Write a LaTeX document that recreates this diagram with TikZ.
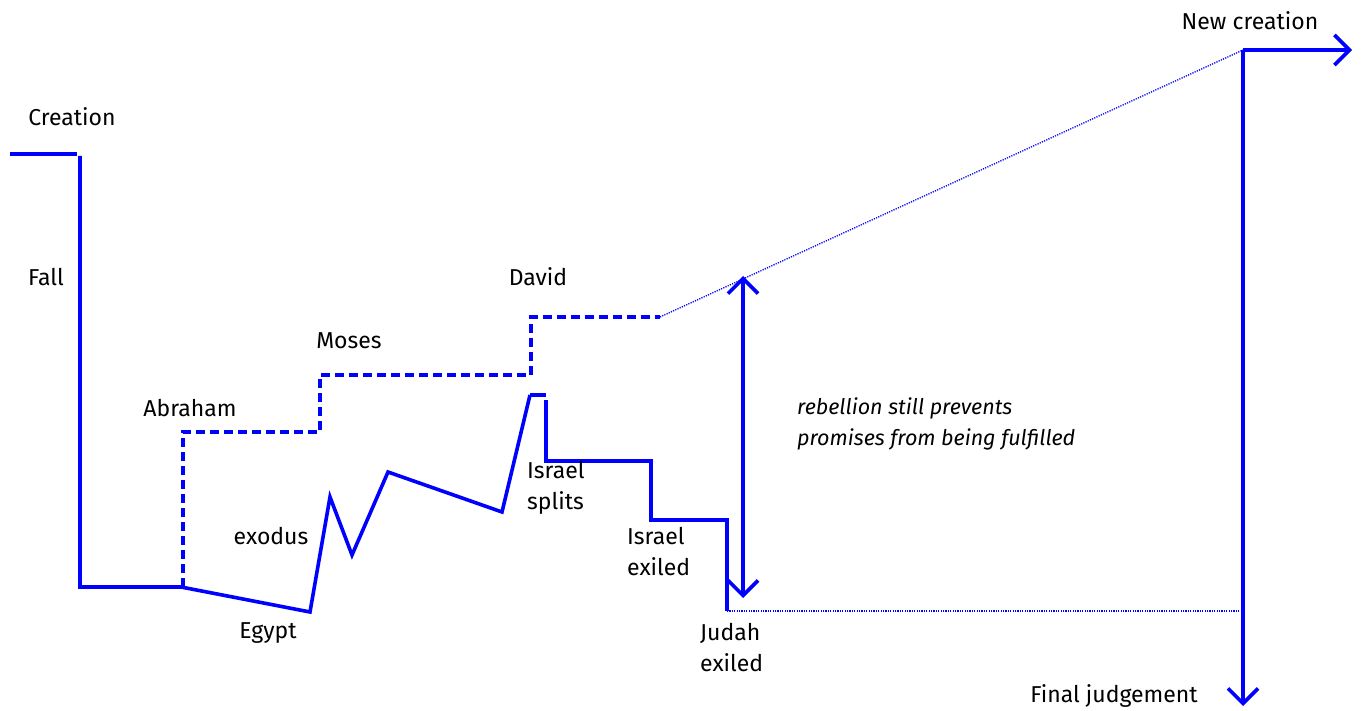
\documentclass[tikz,border=0pt]{standalone}
\usepackage{fontspec}
\setmainfont{Fira Sans}
\usetikzlibrary{arrows.meta}
\begin{document}
\begin{tikzpicture}[x=1pt,y=-1pt,
  solidline/.style={blue,line width=3.6pt},
  dashline/.style={blue,line width=3.6pt,dash pattern=on 9pt off 5pt},
  dotline/.style={blue,line width=1.3pt,dash pattern=on 1.2pt off 1.2pt},
  tipb/.tip={Straight Barb[length=15pt,width=30pt,line width=3.6pt]},
  arr/.style={blue,line width=3.6pt,-tipb},
  dblarr/.style={blue,line width=3.6pt,tipb-tipb},
  lbl/.style={font=\fontsize{23}{31}\selectfont,inner sep=0pt},
  lbll/.style={lbl,align=left}]
\useasboundingbox (0,0) rectangle (1363,711);
% coordinates
\coordinate (c1) at (10,154);
\coordinate (c2) at (77,154);
\coordinate (f1) at (80,156);
\coordinate (f2) at (80,587);
\coordinate (a0) at (181,587);
\coordinate (eg) at (310,612);
\coordinate (z1) at (330,497);
\coordinate (z2) at (352,555);
\coordinate (z3) at (388,472);
\coordinate (z4) at (502,512);
\coordinate (z5) at (530,395);
\coordinate (z6) at (546,395);
\coordinate (s1) at (546,400);
\coordinate (s2) at (546,461);
\coordinate (s3) at (651,461);
\coordinate (s4) at (651,520);
\coordinate (s5) at (727,520);
\coordinate (s6) at (727,611);
\coordinate (d0) at (183,587);
\coordinate (d1) at (183,432);
\coordinate (d2) at (320,432);
\coordinate (d3) at (320,375);
\coordinate (d4) at (527,375);
\coordinate (d5) at (531,375);
\coordinate (d6) at (531,317);
\coordinate (d7) at (660,317);
\coordinate (nc) at (1243,50);
\coordinate (ncr) at (1352,50);
\coordinate (fj) at (1243,706);
\coordinate (fjm) at (1243,611);
\coordinate (ra) at (743,276);
\coordinate (rb) at (743,598);
% solid lines
\draw[solidline] (c1) -- (c2);
\draw[solidline] (f1) -- (f2) -- (a0) -- (eg) -- (z1) -- (z2) -- (z3) -- (z4) -- (z5);
\draw[solidline] (z5) -- (z6);
\draw[solidline] (s1) -- (s2) -- (s3) -- (s4) -- (s5) -- (s6);
% dashed promises
\draw[dashline] (d0) -- (d1) -- (d2) -- (d3) -- (d4);
\draw[dashline] (d5) -- (d6) -- (d7);
% dotted
\draw[dotline] (d7) -- (nc);
\draw[dotline] (s6) -- (fjm);
% arrows
\draw[dblarr] (ra) -- (rb);
\draw[arr] (nc) -- (ncr);
\draw[arr] (nc) -- (fj);
% labels
\node[lbl] (creation) at (72,117) {Creation};
\node[lbl] (fall) at (46,277) {Fall};
\node[lbl] (abraham) at (190,408) {Abraham};
\node[lbl] (moses) at (349,341) {Moses};
\node[lbl] (david) at (538,277) {David};
\node[lbl] (exodus) at (271,536) {exodus};
\node[lbl] (egypt) at (268,633) {Egypt};
\node[lbll,anchor=west] (split) at (527,488) {Israel\\splits};
\node[lbll,anchor=west] (iexile) at (627,552) {Israel\\exiled};
\node[lbll,anchor=west] (jexile) at (700,648) {Judah\\exiled};
\node[lbll,anchor=west,font=\fontsize{21.5}{31}\selectfont\itshape] (reb) at (797,424) {rebellion still prevents\\promises from being fulfilled};
\node[lbl] (newc) at (1250,21) {New creation};
\node[lbl] (finalj) at (1114,696) {Final judgement};
\end{tikzpicture}
\end{document}
